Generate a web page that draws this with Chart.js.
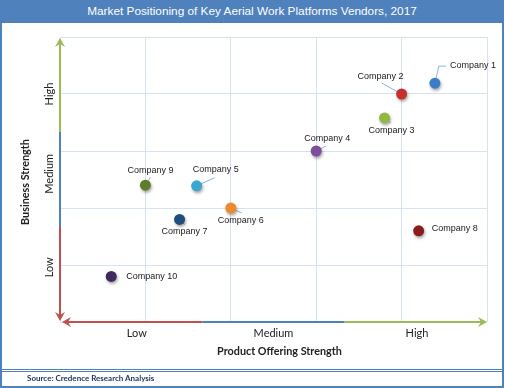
<!DOCTYPE html>
<html>
<head>
<meta charset="utf-8">
<script src="https://cdn.jsdelivr.net/npm/chart.js@4.4.1/dist/chart.umd.min.js"></script>
<style>
  html, body { margin: 0; padding: 0; background: #fff; }
  #wrap { position: relative; width: 505px; height: 388px; overflow: hidden; }
  #chart { position: absolute; left: 0; top: 0; }
  #frame { position: absolute; left: 0; top: 0; width: 504px; height: 388px; box-sizing: border-box;
           border: 2px solid #4f81bd; border-top: none; pointer-events: none; }
  #title { position: absolute; left: 0; top: 0; width: 504px; height: 23px; background: #4f81bd; color: #fff;
           font: 11.8px "Liberation Sans", Arial, sans-serif; text-align: center; line-height: 23px; }
  #foot { position: absolute; left: 2px; top: 369px; width: 500px; height: 3px;
          border-top: 1px solid #4f81bd; border-bottom: 1px solid #4f81bd; box-sizing: border-box; }
  #src { position: absolute; left: 27px; top: 372px; font: bold 8px "Lato", "Liberation Sans", sans-serif;
         color: #1f3864; line-height: 13px; }
</style>
</head>
<body>
<div id="wrap">
  <canvas id="chart" width="505" height="388"></canvas>
  <div id="title">Market Positioning of Key Aerial Work Platforms Vendors, 2017</div>
  <div id="frame"></div>
  <div id="foot"></div>
  <div id="src">Source: Credence Research Analysis</div>
</div>
<script>
// values (scale 0..5 on both axes)
const companies = ['Company 1', 'Company 2', 'Company 3', 'Company 4', 'Company 5',
                   'Company 6', 'Company 7', 'Company 8', 'Company 9', 'Company 10'];
const productStrength  = [4.39, 4.0, 3.8, 3.0, 1.6, 2.0, 1.4, 4.2, 1.0, 0.6];
const businessStrength = [4.19, 4.0, 3.58, 3.0, 2.39, 2.0, 1.8, 1.6, 2.4, 0.8];
const pointColors = ['#3b7dc8', '#c8302e', '#93b842', '#7b4e9e', '#3aa8cc',
                     '#ef8a2c', '#1f4e7a', '#8c1c1c', '#5f7d26', '#40295f'];
const levelLabels = ['Low', 'Medium', 'High'];
const xLevelAt = [0.9, 2.5, 4.18];
const yLevelAt = [0.96, 2.6, 4.0];
const xTitle = 'Product Offering Strength';
const yTitle = 'Business Strength';

// label placement: [dx, dy, align], leader end relative to point (null = none)
const labelOffsets = [[15, -18, 'left'], [-21, -17, 'center'], [7, 13, 'center'], [11, -12, 'center'],
                      [19, -16, 'center'], [10, 13, 'center'], [5, 12, 'center'], [13, -2, 'left'],
                      [5, -15, 'center'], [15, 0, 'left']];
const leaders = [[[4, -17], [11, -17]], [[-20, -11]], [[6, 5]], [[10, -5]], [[18, -8]],
                 [[11, 5]], [[5, 5]], null, [[5, -8]], null];

const arrowColors = ['#c0504d', '#4f81bd', '#9bbb59'];

function arrowHead(ctx, x, y, dir, color) {
  // dir: 'up' | 'down' | 'left' | 'right'
  const L = 9, W = 5, N = 3;
  const pts = {
    up:    [[x, y], [x - W, y + L], [x, y + L - N], [x + W, y + L]],
    down:  [[x, y], [x - W, y - L], [x, y - L + N], [x + W, y - L]],
    left:  [[x, y], [x + L, y - W], [x + L - N, y], [x + L, y + W]],
    right: [[x, y], [x - L, y - W], [x - L + N, y], [x - L, y + W]]
  }[dir];
  ctx.fillStyle = color;
  ctx.beginPath();
  ctx.moveTo(pts[0][0], pts[0][1]);
  for (let i = 1; i < pts.length; i++) ctx.lineTo(pts[i][0], pts[i][1]);
  ctx.closePath();
  ctx.fill();
}

const decorPlugin = {
  id: 'decor',
  beforeDatasetsDraw(chart) {
    const { ctx, chartArea: a, scales: { x, y } } = chart;
    ctx.save();
    ctx.lineWidth = 2;
    // vertical axis: red (bottom), blue, green (top)
    for (let i = 0; i < 3; i++) {
      ctx.strokeStyle = arrowColors[i];
      ctx.beginPath();
      ctx.moveTo(a.left, y.getPixelForValue(i * 5 / 3) - (i === 0 ? 3 : 0));
      ctx.lineTo(a.left, y.getPixelForValue((i + 1) * 5 / 3) + (i === 2 ? 4 : 0));
      ctx.stroke();
    }
    // horizontal axis: red (left), blue, green (right)
    for (let i = 0; i < 3; i++) {
      ctx.strokeStyle = arrowColors[i];
      ctx.beginPath();
      ctx.moveTo(x.getPixelForValue(i * 5 / 3) + (i === 0 ? 4 : 0), a.bottom);
      ctx.lineTo(x.getPixelForValue((i + 1) * 5 / 3) - (i === 2 ? 4 : 0), a.bottom);
      ctx.stroke();
    }
    arrowHead(ctx, a.left, a.top + 1, 'up', arrowColors[2]);
    arrowHead(ctx, a.left, a.bottom - 1, 'down', arrowColors[0]);
    arrowHead(ctx, a.left + 2, a.bottom, 'left', arrowColors[0]);
    arrowHead(ctx, a.right, a.bottom, 'right', arrowColors[2]);

    // leader lines
    const meta = chart.getDatasetMeta(0);
    ctx.strokeStyle = '#8db3e2';
    ctx.lineWidth = 1;
    meta.data.forEach((pt, i) => {
      if (!leaders[i]) return;
      ctx.beginPath();
      ctx.moveTo(pt.x, pt.y);
      leaders[i].forEach(([dx, dy]) => ctx.lineTo(pt.x + dx, pt.y + dy));
      ctx.stroke();
    });
    ctx.restore();
  },
  afterDatasetsDraw(chart) {
    const { ctx, chartArea: a, scales: { x, y } } = chart;
    ctx.save();
    // point labels
    const meta = chart.getDatasetMeta(0);
    ctx.fillStyle = '#1a1a1a';
    ctx.font = '9px "Liberation Sans", Arial, sans-serif';
    ctx.textBaseline = 'middle';
    meta.data.forEach((pt, i) => {
      const [dx, dy, align] = labelOffsets[i];
      ctx.textAlign = align;
      ctx.fillText(companies[i], pt.x + dx, pt.y + dy);
    });

    // level labels
    ctx.fillStyle = '#222';
    ctx.font = '11px "Lato", "Open Sans", sans-serif';
    ctx.textAlign = 'center';
    levelLabels.forEach((t, i) => ctx.fillText(t, x.getPixelForValue(xLevelAt[i]), a.bottom + 11));
    levelLabels.forEach((t, i) => {
      ctx.save();
      ctx.translate(a.left - 11, y.getPixelForValue(yLevelAt[i]));
      ctx.rotate(-Math.PI / 2);
      ctx.fillText(t, 0, 0);
      ctx.restore();
    });

    // axis titles
    ctx.font = 'bold 10.8px "Lato", "Open Sans", sans-serif';
    ctx.fillText(xTitle, (a.left + a.right) / 2 + 6, a.bottom + 30);
    ctx.save();
    ctx.translate(26, 182);
    ctx.rotate(-Math.PI / 2);
    ctx.fillText(yTitle, 0, 0);
    ctx.restore();
    ctx.restore();
  }
};

const shadowPlugin = {
  id: 'pointShadow',
  beforeDatasetDraw(chart) {
    const ctx = chart.ctx;
    ctx.save();
    ctx.shadowColor = 'rgba(0,0,0,0.35)';
    ctx.shadowBlur = 3;
    ctx.shadowOffsetX = 1;
    ctx.shadowOffsetY = 2;
  },
  afterDatasetDraw(chart) {
    chart.ctx.restore();
  }
};

new Chart(document.getElementById('chart'), {
  type: 'scatter',
  data: {
    datasets: [{
      data: productStrength.map((v, i) => ({ x: v, y: businessStrength[i] })),
      backgroundColor: pointColors,
      borderColor: pointColors,
      borderWidth: 0,
      pointRadius: 5.5,
      pointHoverRadius: 5.5
    }]
  },
  options: {
    responsive: false,
    animation: false,
    devicePixelRatio: 1,
    layout: { padding: { left: 60, top: 37, right: 18, bottom: 66 } },
    plugins: { legend: { display: false }, tooltip: { enabled: false } },
    scales: {
      x: {
        type: 'linear', min: 0, max: 5,
        ticks: { display: false, stepSize: 1 },
        grid: { color: '#d5e2f2', lineWidth: 1, drawTicks: false },
        border: { display: false }
      },
      y: {
        type: 'linear', min: 0, max: 5,
        ticks: { display: false, stepSize: 1 },
        grid: { color: '#d5e2f2', lineWidth: 1, drawTicks: false },
        border: { display: false }
      }
    }
  },
  plugins: [decorPlugin, shadowPlugin]
});
</script>
</body>
</html>
